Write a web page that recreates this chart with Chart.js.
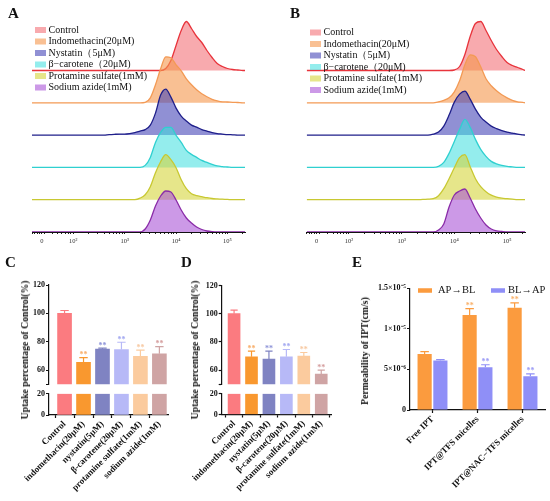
<!DOCTYPE html>
<html>
<head>
<meta charset="utf-8">
<script src="https://cdn.jsdelivr.net/npm/chart.js@4.4.1/dist/chart.umd.min.js"></script>
<style>
body{margin:0;background:#fff;}
#wrap{position:relative;width:550px;height:501px;overflow:hidden;font-family:"Liberation Serif",serif;color:#111;}
canvas{position:absolute;}
.plab{position:absolute;font-weight:bold;font-size:15px;line-height:15px;}
.ytitle{position:absolute;font-weight:bold;font-size:9.7px;line-height:10px;white-space:nowrap;transform:translate(-50%,-50%) rotate(-90deg);}
</style>
</head>
<body>
<div id="wrap">
  <canvas id="cA" width="275" height="255" style="left:0;top:0"></canvas>
  <canvas id="cB" width="275" height="255" style="left:275px;top:0"></canvas>
  <canvas id="cC1" width="180" height="115" style="left:0;top:275px"></canvas>
  <canvas id="cC2" width="180" height="112" style="left:0;top:388px"></canvas>
  <canvas id="cD1" width="170" height="115" style="left:180px;top:275px"></canvas>
  <canvas id="cD2" width="170" height="112" style="left:180px;top:388px"></canvas>
  <canvas id="cE" width="190" height="225" style="left:360px;top:275px"></canvas>
  <div class="plab" style="left:8px;top:5.6px">A</div>
  <div class="plab" style="left:290px;top:5.6px">B</div>
  <div class="plab" style="left:5px;top:255px">C</div>
  <div class="plab" style="left:181px;top:255px">D</div>
  <div class="plab" style="left:352px;top:255px">E</div>
  <div class="ytitle" style="left:25px;top:349.5px">Uptake percentage of Control(%)</div>
  <div class="ytitle" style="left:195px;top:350px">Uptake percentage of Control(%)</div>
  <div class="ytitle" style="left:365px;top:351px">Permeability of IPT(cm/s)</div>
</div>
<script>
// ---- A / B : flow cytometry histograms (x = log10 fluorescence) ----
const logGrid = [2.5,2.6,2.7,2.8,2.9,3.0,3.1,3.2,3.3,3.4,3.5,3.6,3.7,3.8,3.9,4.0,4.1,4.2,4.3,4.4,4.5,4.6,4.7,4.8,4.9,5.0,5.1,5.2,5.3];
const histLabels = ['Control','Indomethacin(20μM)','Nystatin（5μM)','β−carotene（20μM)','Protamine sulfate(1mM)','Sodium azide(1mM)'];

const histA_control = [0,0,0,0,0,0,0,0,0,0,0,0,0,2,10,25,40,49,42,34,28,20,13,7,4,2,1,0.5,0];
const histA_indo    = [0,0,0,0,0,0,0,0,0,0.5,5,18,34,46,45,38,32,24,18,13,9,6,3.5,2,1,0.8,0.5,0.3,0];
const histA_nyst    = [0,0,0.5,0.8,1,1,1.5,2.5,4,5.5,10,22,40,46,38,27,19,14,10,8,5.5,4,2.5,1.5,1,0.5,0.3,0,0];
const histA_carot   = [0,0,0,0,0,0,0,0,0,2,10,25,35,40,40,32,25,17,13,10,7,5,3,1.5,0.8,0.4,0,0,0];
const histA_prot    = [0,0,0,0,0,0,0,0,1.5,5,13,27,38,45,40,32,20,11,6,4,3,2,1.2,0.8,0.5,0.3,0,0,0];
const histA_azide   = [0,0,0,0,0,0,0,0,0,3,12,26,36,41,40,32,22,14,9,5,2.5,1,0.3,0,0,0,0,0,0];

const histB_control = [0,0,0,0,0,0,0,0,0,0,0,0,0,0,0,0.5,4,16,34,47,49,40,30,21,14,8,5,3,1];
const histB_indo    = [0,0,0,0,0,0,0,0,0,0,0,0,1,2.5,5,11,22,38,48,46,36,24,17,12,8,5,2.5,1,0.5];
const histB_nyst    = [0,0,0,0,0,0,0,0,0,0,0,1,3,9,20,33,41,44,36,26,18,13,9,6.5,4.5,3,2,1,0.3];
const histB_carot   = [0,0,0,0,0,0,0,0,0,0,0,0,1,5,14,26,38,48,40,28,18,11,6,3.5,2,1,0.5,0,0];
const histB_prot    = [0,0,0,0,0,0,0,0,0,0.3,0.5,1,4,11,21,32,42,45,33,21,13,8,4.5,2.5,1.5,1,0.5,0,0];
const histB_azide   = [0,0,0,0,0,0,0,0,0,0,0,0,2,8,25,37,41,43,34,23,14,7,3,1.2,0.5,0,0,0,0];

const histLine = ['#e8343c','#f39a55','#1f1f8a','#2fd0d0','#c8c832','#8a2ca8'];
const histFill = ['rgba(242,100,108,0.55)','rgba(245,150,75,0.6)','rgba(70,70,184,0.6)','rgba(60,222,222,0.55)','rgba(214,214,60,0.6)','rgba(170,85,215,0.6)'];
const flowTickLabels = {'1.39':'0','2':'10²','3':'10³','4':'10⁴','5':'10⁵'};

// ---- C / D : uptake bars ----
const uptakeLabels = ['Control','indomethacin(20μM)','nystatin(5μM)','β-carotene(20μM)','protamine sulfate(1mM)','sodium azide(1mM)'];
const uptakeC = [100,65.4,74.8,74.4,69.6,71.5];
const uptakeC_err = [2,3.3,0.6,5.2,4.5,5];
const uptakeD = [100,69.4,67.8,69.4,69.9,57.2];
const uptakeD_err = [2.5,4,5.6,5.2,2.6,2.8];
const uptakeSig = [false,true,true,true,true,true];
const uptakeColors = ['#fb7b80','#f9982f','#7f83c2','#b7b9f7','#fbcb9e','#cfa4a4'];
const uptakeStarColors = ['#f8a0a0','#f8ad68','#8c92d8','#a0a6f0','#f7c8a0','#d49c9c'];

// ---- E : permeability ----
const permLabels = ['Free IPT','IPT@TFS micelles','IPT@NAC−TFS micelles'];
const permApBl = [6.9e-6,1.17e-5,1.26e-5];
const permApBl_err = [0.3e-6,0.8e-6,0.6e-6];
const permBlAp = [6.1e-6,5.28e-6,4.15e-6];
const permBlAp_err = [0.1e-6,0.3e-6,0.3e-6];
const permSig = [false,true,true];
const permTicks = [0,5e-6,1e-5,1.5e-5];
const permTickLabels = ['0','5×10⁻⁶','1×10⁻⁵','1.5×10⁻⁵'];

const SERIF = '"Liberation Serif", serif';
const INK = '#111';

// error bars + significance stars
const errPlugin = {
  id: 'errbars',
  afterDatasetsDraw(chart, args, opts) {
    if (!opts.errs) return;
    const ctx = chart.ctx, ys = chart.scales.y;
    opts.errs.forEach((errs, d) => {
      const ds = chart.data.datasets[d], meta = chart.getDatasetMeta(d);
      meta.data.forEach((bar, i) => {
        const raw = ds.data[i], v = typeof raw === 'object' ? raw.y : raw;
        const top = ys.getPixelForValue(v + errs[i]);
        const col = Array.isArray(ds.backgroundColor) ? ds.backgroundColor[i] : ds.backgroundColor;
        const hw = bar.width * 0.3;
        ctx.save();
        ctx.strokeStyle = col; ctx.lineWidth = 1.2;
        ctx.beginPath();
        ctx.moveTo(bar.x, bar.y); ctx.lineTo(bar.x, top);
        ctx.moveTo(bar.x - hw, top); ctx.lineTo(bar.x + hw, top);
        ctx.stroke();
        const sc = opts.stars && opts.stars[d][i];
        if (sc) {
          ctx.fillStyle = sc; ctx.font = 'bold 8px ' + SERIF;
          ctx.textAlign = 'center'; ctx.textBaseline = 'alphabetic';
          ctx.fillText('**', bar.x, top - 0.5);
        }
        ctx.restore();
      });
    });
  }
};

// colour key boxes drawn on the canvas
const keyPlugin = {
  id: 'keys',
  afterDraw(chart, args, opts) {
    if (!opts.items) return;
    const ctx = chart.ctx;
    ctx.save();
    ctx.font = opts.font; ctx.textBaseline = 'middle'; ctx.textAlign = 'left';
    opts.items.forEach((it, i) => {
      const ds = chart.data.datasets[i];
      ctx.fillStyle = ds.backgroundColor;
      ctx.fillRect(it.bx, it.y - opts.h / 2, opts.w, opts.h);
      ctx.fillStyle = INK;
      ctx.fillText(ds.label, it.tx, it.y);
    });
    ctx.restore();
  }
};
Chart.register(errPlugin, keyPlugin);

function flowTicks() {
  const t = [1.2,1.25,1.3,1.35,1.39,1.45,1.6,1.7,1.78,1.85,1.9,1.95];
  [2,3,4].forEach(d => { for (let k = 1; k <= 9; k++) t.push(d + Math.log10(k)); });
  t.push(5, 5.3);
  return t;
}

function ridgeChart(id, series, padL, padR, keyY0) {
  const xMin = 1.2, xMax = 5.34, rowGap = 32.3;
  const datasets = series.map((vals, i) => {
    const base = (series.length - 1 - i) * rowGap;
    return {
      label: histLabels[i],
      data: [{x: xMin, y: base}].concat(logGrid.map((x, j) => ({x: x, y: base + vals[j]})), [{x: xMax, y: base}]),
      fill: {value: base},
      borderColor: histLine[i],
      backgroundColor: histFill[i],
      borderWidth: 1.3,
      pointRadius: 0,
      cubicInterpolationMode: 'monotone',
      order: series.length - i
    };
  });
  new Chart(document.getElementById(id), {
    type: 'line',
    data: {datasets: datasets},
    options: {
      responsive: false, animation: false,
      layout: {padding: {left: padL, right: padR, top: 10, bottom: 0}},
      plugins: {
        legend: {display: false}, tooltip: {enabled: false},
        keys: {font: '10px ' + SERIF, w: 11, h: 6,
               items: histLabels.map((_, i) => ({bx: 35, tx: 48.5, y: keyY0 + i * 11.5}))}
      },
      scales: {
        x: {
          type: 'linear', min: xMin, max: xMax, offset: false,
          afterBuildTicks: s => { s.ticks = flowTicks().map(v => ({value: v})); },
          afterFit: s => { s.height = 23; },
          ticks: {
            autoSkip: false, maxRotation: 0, padding: 3,
            font: {family: SERIF, size: 6.5}, color: '#333',
            callback: v => flowTickLabels[String(Math.round(v * 100) / 100)] || ''
          },
          grid: {drawOnChartArea: false, tickLength: 2, tickColor: '#222'},
          border: {color: '#111', width: 1}
        },
        y: {display: false, min: 0, max: 222}
      }
    }
  });
}

ridgeChart('cA', [histA_control, histA_indo, histA_nyst, histA_carot, histA_prot, histA_azide], 32, 30, 30);
ridgeChart('cB', [histB_control, histB_indo, histB_nyst, histB_carot, histB_prot, histB_azide], 31.7, 25, 32.5);

const axisFont = {family: SERIF, size: 8, weight: 'bold'};
const labelFont = {family: SERIF, size: 9, weight: 'bold'};

function uptakeCharts(idUp, idLow, vals, errs, cfg) {
  const xs = {type: 'linear', min: cfg.xMin, max: cfg.xMax, offset: false,
              afterBuildTicks: s => { s.ticks = uptakeLabels.map((_, i) => ({value: i})); }};
  const yBase = {
    afterFit: s => { s.width = cfg.axW; },
    ticks: {font: axisFont, color: INK, padding: 1, autoSkip: false},
    grid: {drawOnChartArea: false, tickLength: 3, tickColor: INK, tickWidth: 1.2},
    border: {color: INK, width: 1.2}
  };
  new Chart(document.getElementById(idUp), {
    type: 'bar',
    data: {datasets: [{data: vals.map((v, i) => ({x: i, y: v})), backgroundColor: uptakeColors, barThickness: cfg.bw}]},
    options: {
      responsive: false, animation: false,
      layout: {padding: {left: 0, right: cfg.padR, top: cfg.upTop, bottom: 5.8}},
      plugins: {legend: {display: false}, tooltip: {enabled: false},
                errbars: {errs: [errs], stars: [uptakeSig.map((s, i) => s ? uptakeStarColors[i] : null)]}},
      scales: {
        x: Object.assign({display: false}, xs),
        y: Object.assign({}, yBase, {
          min: 50, max: 120,
          afterBuildTicks: s => { s.ticks = [50, 60, 80, 100, 120].map(v => ({value: v})); },
          ticks: Object.assign({}, yBase.ticks, {callback: v => v === 50 ? '' : v})
        })
      }
    }
  });
  new Chart(document.getElementById(idLow), {
    type: 'bar',
    data: {datasets: [{data: vals.map((v, i) => ({x: i, y: Math.min(v, 20)})), backgroundColor: uptakeColors, barThickness: cfg.bw}]},
    options: {
      responsive: false, animation: false,
      layout: {padding: {left: 0, right: cfg.padR, top: 5, bottom: 0}},
      plugins: {legend: {display: false}, tooltip: {enabled: false}},
      scales: {
        x: Object.assign({}, xs, {
          afterFit: s => { s.height = cfg.lowXH; },
          ticks: {autoSkip: false, minRotation: 45, maxRotation: 45, padding: 1, font: labelFont, color: INK,
                  callback: v => uptakeLabels[v] || ''},
          grid: {drawOnChartArea: false, tickLength: 3, tickColor: INK, tickWidth: 1.2},
          border: {color: INK, width: 1.2}
        }),
        y: Object.assign({}, yBase, {
          min: 0, max: 20,
          afterBuildTicks: s => { s.ticks = [0, 20].map(v => ({value: v})); }
        })
      }
    }
  });
}

uptakeCharts('cC1', 'cC2', uptakeC, uptakeC_err, {xMin: -0.82, xMax: 5.47, axW: 49, padR: 11.7, bw: 14, upTop: 10, lowXH: 85});
uptakeCharts('cD1', 'cD2', uptakeD, uptakeD_err, {xMin: -0.71, xMax: 5.6, axW: 41.7, padR: 18.3, bw: 12, upTop: 10.5, lowXH: 85.5});

new Chart(document.getElementById('cE'), {
  type: 'bar',
  data: {
    labels: permLabels,
    datasets: [
      {label: 'AP→BL', data: permApBl, backgroundColor: '#fb9b3e', categoryPercentage: 0.7, barPercentage: 0.9},
      {label: 'BL→AP', data: permBlAp, backgroundColor: '#8f8ff7', categoryPercentage: 0.7, barPercentage: 0.9}
    ]
  },
  options: {
    responsive: false, animation: false,
    layout: {padding: {left: 0, right: 5, top: 13.3, bottom: 0}},
    plugins: {
      legend: {display: false}, tooltip: {enabled: false},
      errbars: {errs: [permApBl_err, permBlAp_err],
                stars: [permSig.map(s => s ? '#f9b06a' : null), permSig.map(s => s ? '#9a9af5' : null)]},
      keys: {font: '10.5px ' + SERIF, w: 14, h: 4.5, items: [{bx: 58, tx: 78, y: 15.5}, {bx: 131, tx: 148, y: 15.5}]}
    },
    scales: {
      x: {
        afterFit: s => { s.height = 90; },
        ticks: {autoSkip: false, minRotation: 45, maxRotation: 45, padding: 1, font: labelFont, color: INK},
        grid: {drawOnChartArea: false, offset: false, tickLength: 3, tickColor: INK, tickWidth: 1.2},
        border: {color: INK, width: 1.2}
      },
      y: {
        min: 0, max: 1.5e-5,
        afterBuildTicks: s => { s.ticks = permTicks.map(v => ({value: v})); },
        afterFit: s => { s.width = 50; },
        ticks: {font: axisFont, color: INK, padding: 1, autoSkip: false, callback: (v, i) => permTickLabels[i]},
        grid: {drawOnChartArea: false, tickLength: 3, tickColor: INK, tickWidth: 1.2},
        border: {color: INK, width: 1.2}
      }
    }
  }
});
</script>
</body>
</html>
